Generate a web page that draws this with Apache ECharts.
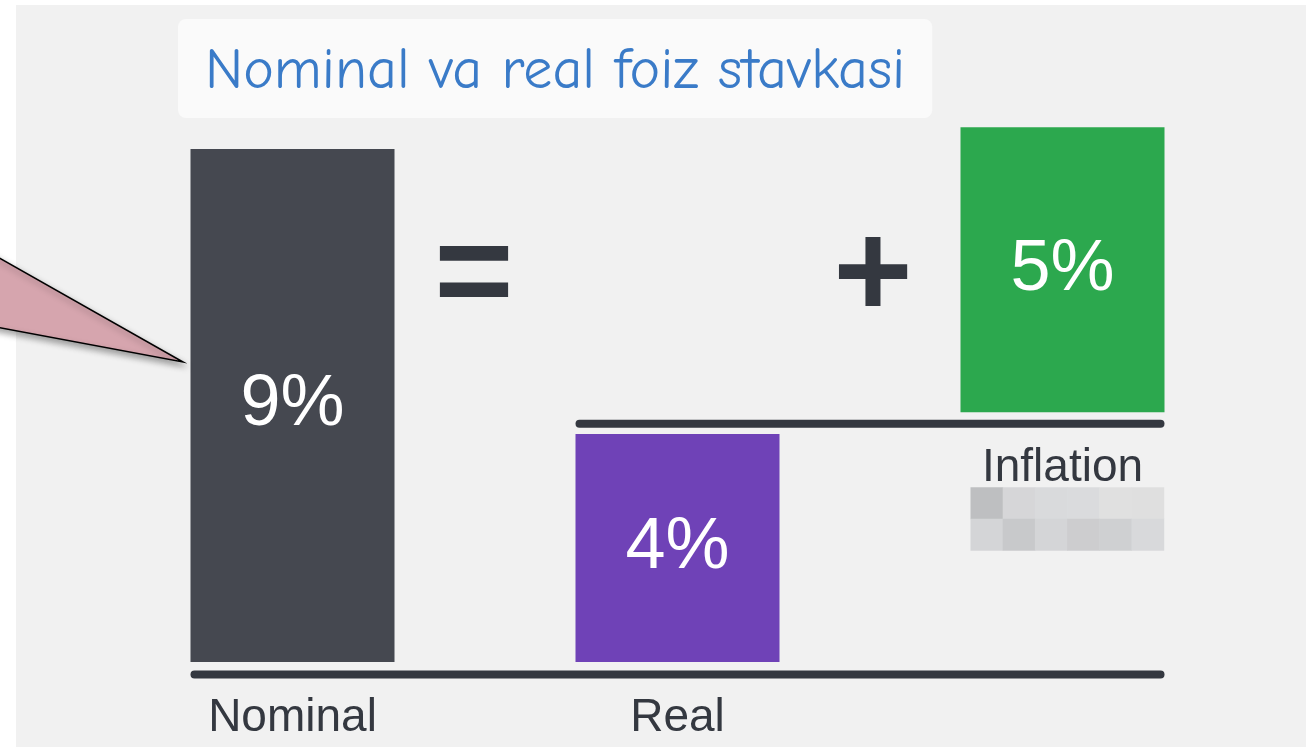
<!DOCTYPE html>
<html>
<head>
<meta charset="utf-8">
<script src="https://cdn.jsdelivr.net/npm/echarts@6/dist/echarts.min.js"></script>
<style>
  html, body { margin: 0; padding: 0; background: #ffffff; }
  #main { width: 1311px; height: 747px; }
</style>
</head>
<body>
<div id="main"></div>
<script>
const categories = ["Nominal", "Real", "Inflation"];
const rates = [9, 4, 5];
// inflation block sits on top of the real rate line
const offsets = [0, 0, 4.38];
const upperLevel = 4.18;
const baseLevel = -0.22;

const chart = echarts.init(document.getElementById("main"));
const font = "'Liberation Sans', Arial, sans-serif";
const dark = "#343840";

const option = {
  animation: false,
  backgroundColor: "#ffffff",
  title: {
    text: "Nominal va real foiz stavkasi",
    left: 178,
    top: 19,
    padding: [24, 27, 17, 27],
    backgroundColor: "#fafafa",
    borderRadius: 8,
    textStyle: {
      fontFamily: "'Comic Sans MS', 'Comic Neue', Lato, sans-serif",
      fontSize: 58,
      fontWeight: "normal",
      color: "#3a7bc8"
    }
  },
  grid: { left: 100, right: 56, top: 92, bottom: 85 },
  xAxis: {
    type: "category",
    data: categories,
    axisLine: { show: false },
    axisTick: { show: false },
    axisLabel: {
      interval: (i) => i < 2,
      margin: 33,
      fontSize: 46,
      fontFamily: font,
      color: dark
    }
  },
  yAxis: { type: "value", min: 0, max: 10, show: false },
  series: [
    {
      name: "offset",
      type: "bar",
      stack: "total",
      barWidth: 204,
      itemStyle: { color: "transparent" },
      label: {
        show: true,
        position: "insideTop",
        distance: 33,
        formatter: (p) => (p.dataIndex === 2 ? categories[2] : ""),
        fontSize: 46,
        fontFamily: font,
        color: dark
      },
      data: offsets,
      silent: true,
      z: 1
    },
    {
      name: "rate",
      type: "bar",
      stack: "total",
      barWidth: 204,
      data: rates.map((v, i) => ({
        value: v,
        itemStyle: { color: ["#454850", "#6f42b7", "#2ca84e"][i] }
      })),
      label: {
        show: true,
        position: "inside",
        formatter: "{c}%",
        fontSize: 72,
        fontFamily: font,
        color: "#ffffff"
      },
      z: 2
    }
  ]
};

chart.setOption(option);

// decorations placed from the axes' own scales
const half = 102;
const cx = categories.map((c) => chart.convertToPixel({ xAxisIndex: 0 }, c));
const yBase = chart.convertToPixel({ yAxisIndex: 0 }, baseLevel);
const yUpper = chart.convertToPixel({ yAxisIndex: 0 }, upperLevel);
const yInfl = chart.convertToPixel({ yAxisIndex: 0 }, offsets[2]);

const blurColors = [
  ["#bebfc1", "#d6d6d8", "#d9dadc", "#dadbdd", "#e0e0e0", "#dfdfdf"],
  ["#d4d5d7", "#c8c9cb", "#d4d5d7", "#cdcdcf", "#cfd0d2", "#d8d9db"]
];
const blurCells = [];
const bx = cx[2] - half + 10, by = yInfl + 75, cw = 32.2, ch = 31.5;
blurColors.forEach((row, r) => {
  row.forEach((col, c) => {
    blurCells.push({
      type: "rect",
      shape: { x: bx + c * cw, y: by + r * ch, width: cw + 0.5, height: ch + 0.5 },
      style: { fill: col }
    });
  });
});

chart.setOption({
  graphic: [
    {
      type: "rect",
      shape: { x: 16, y: 5, width: 1290, height: 742 },
      style: { fill: "#f1f1f1" },
      z: -10,
      silent: true
    },
    {
      type: "polygon",
      shape: { points: [[-20, 247], [183, 362], [-20, 324]] },
      style: {
        fill: "#d6a5ae",
        stroke: "#000000",
        lineWidth: 1.5,
        shadowBlur: 6,
        shadowOffsetX: 2,
        shadowOffsetY: 4,
        shadowColor: "rgba(0,0,0,0.35)"
      },
      z: 5
    },
    {
      type: "line",
      shape: { x1: cx[0] - half + 4, y1: yBase, x2: cx[2] + half - 4, y2: yBase },
      style: { stroke: dark, lineWidth: 8, lineCap: "round" },
      z: 5
    },
    {
      type: "line",
      shape: { x1: cx[1] - half + 4, y1: yUpper, x2: cx[2] + half - 4, y2: yUpper },
      style: { stroke: dark, lineWidth: 8, lineCap: "round" },
      z: 5
    },
    {
      type: "text",
      style: {
        text: "=",
        x: 474, y: 278,
        align: "center", verticalAlign: "middle",
        fontSize: 136, fontFamily: font, fontWeight: "bold",
        fill: dark
      },
      z: 5
    },
    {
      type: "text",
      style: {
        text: "+",
        x: 873, y: 279,
        align: "center", verticalAlign: "middle",
        fontSize: 136, fontFamily: font, fontWeight: "bold",
        fill: dark
      },
      z: 5
    },
    { type: "group", children: blurCells, z: 5 }
  ]
});
</script>
</body>
</html>
